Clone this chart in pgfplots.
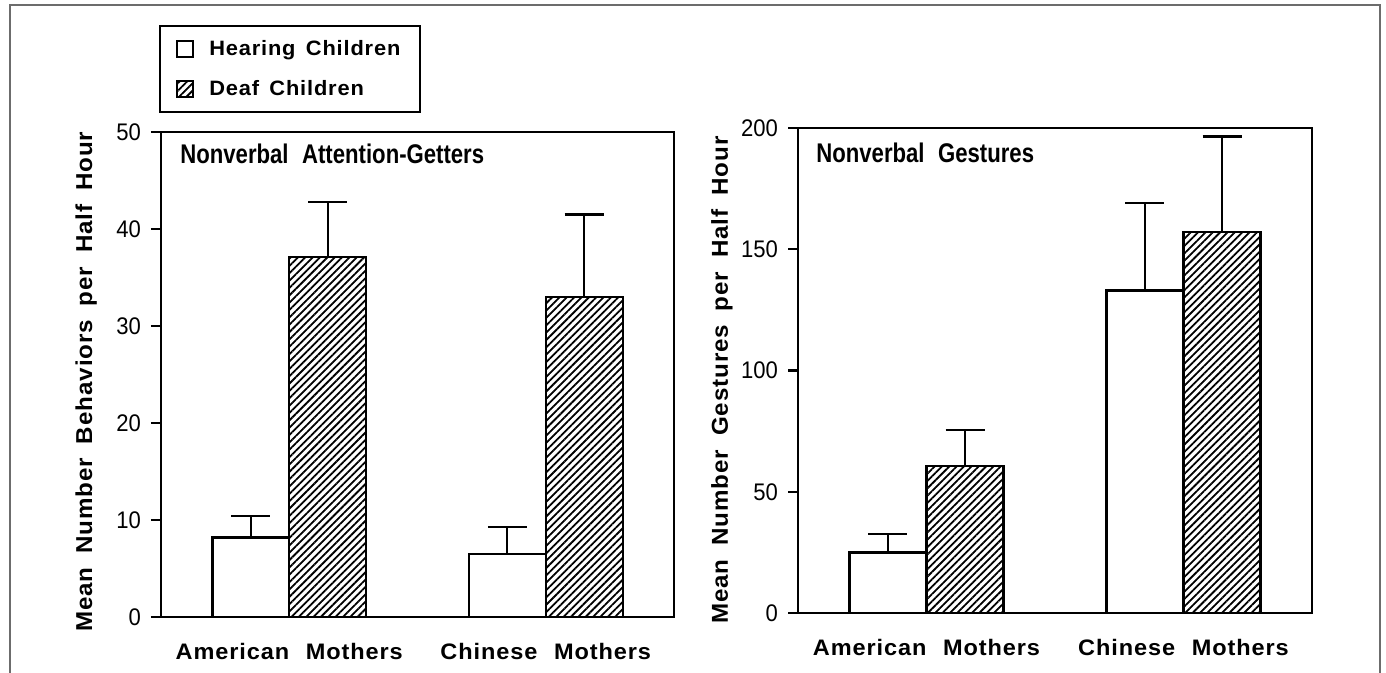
\documentclass[border=0pt]{standalone}
\usepackage{fontspec}
\setmainfont{Liberation Sans}
\newfontfamily\spfont{Liberation Sans}[LetterSpace=4, FakeStretch=1.05]
\newfontfamily\titlefont{Liberation Sans}[FakeStretch=0.82]
\newfontfamily\numfont{Liberation Sans}[FakeStretch=0.92]
\usepackage{pgfplots}
\pgfplotsset{compat=1.18}
\usetikzlibrary{patterns.meta}

\pgfplotsset{
  myaxis/.style={
    scale only axis,
    anchor=south west,
    height=242.5pt,
    xmin=0.5, xmax=2.5,
    ymin=0,
    axis line style={line width=1.2pt},
    tick align=outside,
    major tick length=5pt,
    ytick pos=left,
    ytick style={line width=1.2pt, black},
    xtick={1,2},
    xticklabels={American\hspace{0.75em}Mothers, Chinese\hspace{0.75em}Mothers},
    xtick style={draw=none},
    xticklabel style={anchor=base, yshift=-16.5pt, font=\spfont\bfseries\fontsize{11.2}{13}\selectfont},
    yticklabel style={font=\numfont\fontsize{12}{13}\selectfont, xshift=-1.5pt},
    /pgf/number format/assume math mode=true,
    ylabel style={font=\spfont\bfseries\fontsize{11.5}{13}\selectfont},
    ybar, bar width=0.3, bar shift=0pt,
    every axis plot/.append style={line width=1.2pt, draw=black},
    error bars/error bar style={line width=1.2pt, black},
    error bars/error mark options={line width=1.2pt, black, mark size=9.75pt, rotate=90},
  },
  hear/.style={fill=white, draw=black, error bars/.cd, y dir=plus, y explicit},
  deaf/.style={pattern={Lines[angle=45, distance=2.6pt, line width=0.9pt]}, draw=black, error bars/.cd, y dir=plus, y explicit},
}

\begin{document}
\begin{tikzpicture}
\path[use as bounding box] (0,0) rectangle (693pt,336.5pt);
\draw[gray!85!black, line width=1pt] (5pt,0pt) -- (5pt,334pt) -- (690pt,334pt) -- (690pt,0pt);

\begin{axis}[myaxis,
  at={(80.5pt,28pt)},
  width=256.5pt,
  ymax=50, ytick={0,10,20,30,40,50},
  ylabel={Mean\hspace{0.6em}Number\hspace{0.6em}Behaviors\hspace{0.6em}per\hspace{0.6em}Half\hspace{0.6em}Hour},
  ylabel style={at={(axis description cs:-0.146,0.485)}, anchor=center},
  legend style={at={(axis description cs:-0.004,1.2206)}, anchor=north west,
    draw=black, line width=1pt, font=\spfont\bfseries\fontsize{10.4}{13}\selectfont,
    inner xsep=8pt, inner ysep=5pt, row sep=7pt, cells={anchor=west}},
  legend image code/.code={\draw[#1, line width=1.1pt] (0pt,-4pt) rectangle (8pt,4pt); \path (13.5pt,0pt);},
]
\addplot[hear] coordinates {(0.85,8.2) +- (0,2.2) (1.85,6.5) +- (0,2.8)};
\addlegendentry{Hearing\hspace{0.5em}Children}
\addplot[deaf] coordinates {(1.15,37.1) +- (0,5.7) (2.15,33.0) +- (0,8.5)};
\addlegendentry{Deaf\hspace{0.5em}Children}
\node[anchor=base west, font=\titlefont\bfseries\fontsize{13.5}{15}\selectfont] at (rel axis cs:0.024,0.936) {Nonverbal\hspace{0.5em}Attention-Getters};
\end{axis}

\begin{axis}[myaxis,
  at={(399pt,30pt)},
  width=257pt,
  ymax=200, ytick={0,50,100,150,200},
  ylabel={Mean\hspace{0.6em}Number\hspace{0.6em}Gestures\hspace{0.6em}per\hspace{0.6em}Half\hspace{0.6em}Hour},
  ylabel style={at={(axis description cs:-0.148,0.48)}, anchor=center},
]
\addplot[hear] coordinates {(0.85,25) +- (0,7.5) (1.85,133) +- (0,36)};
\addplot[deaf] coordinates {(1.15,60.5) +- (0,15) (2.15,157) +- (0,39.5)};
\node[anchor=base west, font=\titlefont\bfseries\fontsize{13.5}{15}\selectfont] at (rel axis cs:0.022,0.928) {Nonverbal\hspace{0.5em}Gestures};
\end{axis}
\end{tikzpicture}
\end{document}
